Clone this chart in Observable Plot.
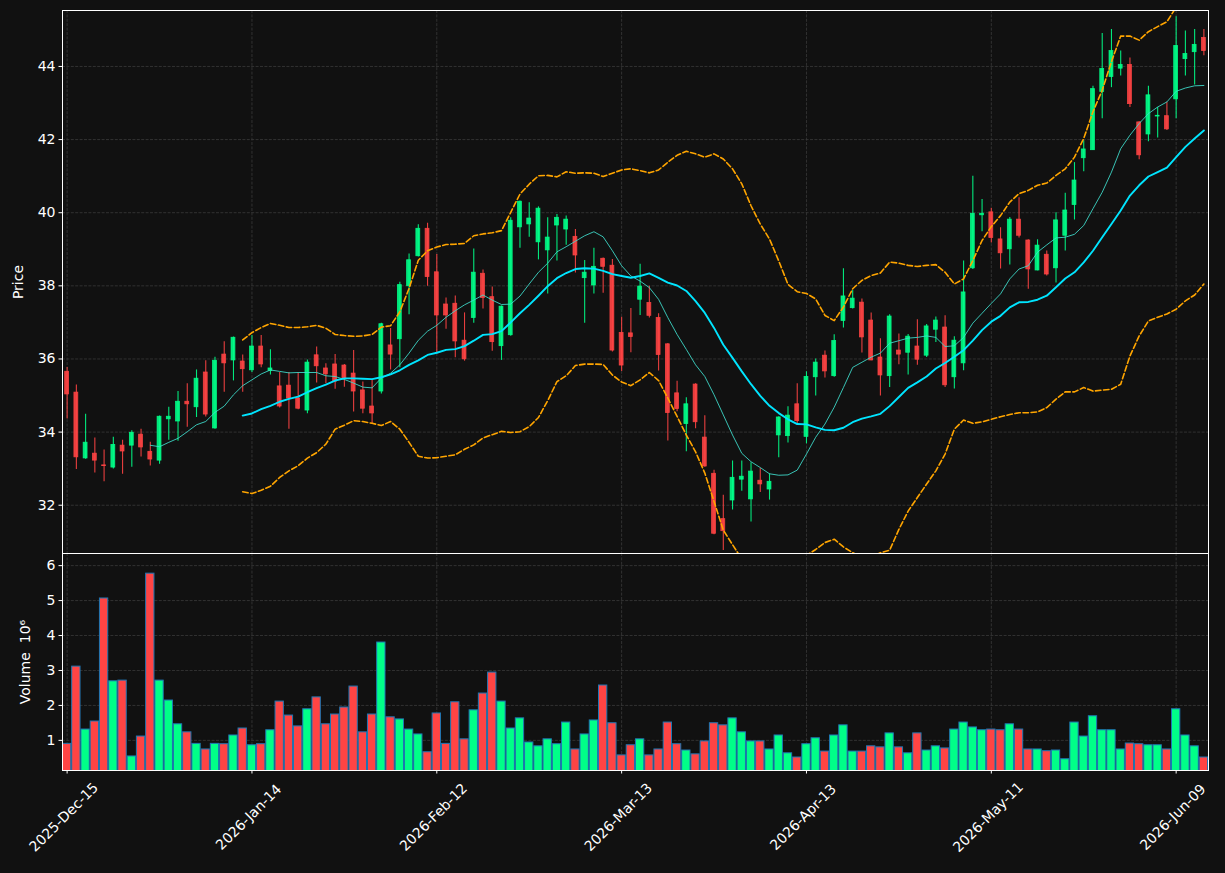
<!DOCTYPE html>
<html><head><meta charset="utf-8">
<script src="https://cdn.jsdelivr.net/npm/d3@7"></script>
<script src="https://cdn.jsdelivr.net/npm/@observablehq/plot@0.6"></script>
<style>
html,body{margin:0;padding:0;background:#111111;}
#chart{width:1225px;height:873px;overflow:hidden;background:#111111;}
#chart svg{display:block;}
</style></head><body><div id="chart"></div>
<script>
// ---- data (trading-day index 0..123) ----
const openP = [35.65,35.08,33.28,33.41,33.09,33.03,33.63,33.63,33.93,33.46,
33.22,34.35,34.29,34.83,34.68,35.63,34.10,36.12,35.96,35.93,
35.69,36.34,35.67,35.25,35.27,34.92,34.59,36.10,35.74,35.85,
35.82,35.60,35.14,34.70,35.11,36.37,36.54,37.99,38.81,39.56,
38.37,37.49,37.51,36.50,37.12,38.33,37.69,36.35,36.65,39.60,
39.68,39.19,38.97,39.65,39.54,39.34,38.21,38.01,38.74,38.55,
36.71,36.70,37.62,37.53,37.12,36.40,35.06,34.22,35.30,33.85,
32.86,31.62,32.13,32.70,32.16,32.67,32.43,33.91,33.89,34.76,
33.87,35.50,36.09,35.53,37.04,37.39,37.54,37.05,36.04,35.53,
36.23,36.17,36.34,36.09,36.80,36.86,35.50,35.88,38.48,39.93,
40.01,39.27,39.00,39.81,39.24,38.42,38.85,38.48,39.37,40.21,
41.49,41.71,43.30,43.71,43.94,44.04,42.47,42.14,42.63,42.64,
43.10,44.20,44.39,44.78];
const highP = [35.77,35.29,34.49,33.84,33.51,33.86,33.78,34.04,34.08,33.72,
34.44,34.68,35.11,35.32,35.70,35.95,36.05,36.47,36.60,36.11,
36.64,36.64,36.25,35.63,35.63,35.63,35.97,36.33,35.87,36.12,
35.85,36.23,35.37,35.41,36.98,36.83,38.10,38.87,39.67,39.71,
38.86,37.67,37.72,37.26,39.01,38.43,37.97,37.45,39.86,40.32,
40.27,40.16,39.86,39.95,39.91,39.54,38.69,39.03,38.76,38.72,
37.14,37.38,38.59,37.99,37.24,36.42,35.39,34.94,35.32,34.45,
32.96,32.27,33.21,33.21,33.16,33.01,32.86,34.42,34.69,35.32,
35.65,36.00,36.22,36.66,38.47,37.87,37.64,37.26,36.55,37.21,
36.68,36.67,37.07,36.94,37.15,37.18,36.61,38.68,41.00,40.36,
40.12,39.59,39.87,40.41,39.26,39.26,38.95,40.00,40.53,41.37,
41.97,43.46,44.90,45.01,44.42,44.23,42.49,43.46,42.88,43.02,
45.36,44.97,45.01,45.01];
const lowP = [34.36,32.98,33.26,32.88,32.64,32.99,32.85,33.04,33.32,33.07,
33.12,33.78,33.75,34.13,34.40,34.41,34.08,35.09,35.40,35.09,
35.63,35.76,35.56,34.66,34.08,34.61,34.50,35.34,35.32,35.17,
35.23,34.55,34.50,34.22,35.04,35.70,35.76,37.21,38.79,37.99,
36.18,36.81,36.03,35.94,36.98,37.37,36.21,35.96,36.62,39.03,
39.33,38.71,37.78,38.68,39.11,38.35,36.98,37.78,37.80,36.19,
35.66,36.17,37.19,37.12,35.67,33.76,34.56,33.46,34.09,33.04,
31.19,30.76,31.87,32.38,31.54,32.35,32.14,33.30,33.70,34.20,
33.68,34.99,35.48,35.50,36.85,37.37,36.16,35.95,34.99,35.22,
35.84,35.56,35.83,36.04,36.45,35.22,35.18,35.68,38.45,39.48,
39.17,38.46,38.57,39.31,37.91,38.41,38.27,38.08,38.95,39.80,
41.12,41.70,42.57,43.42,43.74,42.88,41.45,41.94,42.04,42.25,
42.57,43.74,43.49,44.29];
const closeP = [35.03,33.31,33.71,33.22,33.07,33.65,33.47,33.98,33.58,33.25,
34.42,34.42,34.83,34.76,35.46,34.48,35.95,35.88,36.58,35.72,
36.34,35.85,35.74,34.70,34.92,34.64,35.90,35.80,35.58,35.38,
35.45,35.11,34.64,34.51,36.95,36.12,38.02,38.70,39.56,38.24,
37.19,37.19,36.48,35.99,38.36,37.67,36.46,37.43,39.78,40.30,
39.84,40.11,39.32,39.86,39.81,38.83,38.36,38.52,38.52,36.23,
35.82,36.60,37.98,37.18,36.11,34.52,34.63,34.76,34.27,33.06,
31.22,31.29,32.75,32.78,32.92,32.57,32.64,34.40,34.45,34.30,
35.51,35.90,35.66,36.49,37.71,37.65,36.59,35.96,35.55,37.16,
36.12,36.61,35.98,36.89,37.05,35.28,36.50,37.82,39.97,39.97,
39.31,38.89,39.81,39.37,38.45,39.10,38.31,39.79,40.06,40.88,
41.73,43.38,43.93,44.42,44.04,42.97,41.57,43.21,42.65,42.28,
44.56,44.34,44.59,44.42];
// volume in millions
const volume = [0.90,3.11,1.31,1.54,5.06,2.69,2.71,0.54,1.11,5.77,
2.71,2.14,1.46,1.23,0.90,0.74,0.90,0.89,1.14,1.34,
0.86,0.89,1.29,2.11,1.71,1.40,1.89,2.23,1.46,1.74,
1.94,2.54,1.23,1.74,3.80,1.66,1.60,1.31,1.17,0.66,
1.77,0.90,2.09,1.03,1.86,2.34,2.94,2.11,1.34,1.63,
0.94,0.83,1.03,0.89,1.51,0.74,1.17,1.57,2.57,1.49,
0.57,0.86,1.03,0.57,0.74,1.51,0.89,0.71,0.60,0.97,
1.49,1.43,1.63,1.23,0.97,0.97,0.74,1.14,0.63,0.51,
0.89,1.06,0.68,1.14,1.43,0.68,0.68,0.83,0.80,1.20,
0.80,0.63,1.20,0.71,0.83,0.77,1.31,1.51,1.37,1.29,
1.31,1.29,1.46,1.31,0.74,0.74,0.69,0.71,0.46,1.51,
1.11,1.69,1.29,1.29,0.74,0.91,0.89,0.86,0.86,0.74,
1.89,1.14,0.83,0.51];
// 10-day moving average, starting at index 9
const ma10Start = 9;
const ma10 = [33.64,33.60,33.72,33.83,34.01,34.20,34.29,34.54,34.71,35.02,
35.27,35.43,35.59,35.70,35.66,35.62,35.63,35.63,35.63,35.54,
35.52,35.44,35.34,35.23,35.21,35.48,35.61,35.84,36.16,36.51,
36.76,36.92,37.14,37.32,37.48,37.61,37.75,37.61,37.49,37.50,
37.72,38.05,38.37,38.62,38.93,39.07,39.22,39.37,39.48,39.34,
38.96,38.55,38.27,38.13,37.95,37.63,37.13,36.67,36.26,35.84,
35.52,35.02,34.47,33.92,33.42,33.19,33.03,32.86,32.82,32.83,
32.96,33.40,33.86,34.22,34.68,35.22,35.77,35.91,36.05,36.16,
36.43,36.50,36.57,36.59,36.63,36.59,36.34,36.36,36.59,36.98,
37.25,37.52,37.78,38.19,38.46,38.55,38.92,39.12,39.31,39.33,
39.41,39.65,40.11,40.56,41.11,41.75,42.12,42.44,42.71,42.89,
43.03,43.32,43.41,43.47,43.48];
// 20-day moving average and Bollinger bands, starting at index 19
const ma20Start = 19;
const ma20 = [34.45,34.51,34.63,34.72,34.83,34.91,34.97,35.09,35.20,35.30,
35.41,35.47,35.47,35.46,35.45,35.50,35.58,35.69,35.84,35.96,
36.11,36.17,36.25,36.27,36.35,36.50,36.66,36.68,36.76,37.00,
37.25,37.48,37.73,37.99,38.21,38.35,38.46,38.48,38.47,38.41,
38.32,38.27,38.22,38.27,38.34,38.22,38.09,38.01,37.86,37.58,
37.26,36.85,36.39,36.03,35.66,35.31,34.99,34.72,34.52,34.35,
34.22,34.21,34.13,34.06,34.05,34.12,34.27,34.37,34.43,34.50,
34.71,34.96,35.21,35.36,35.52,35.74,35.89,36.06,36.24,36.50,
36.79,37.02,37.18,37.41,37.55,37.56,37.62,37.73,37.96,38.20,
38.37,38.64,38.96,39.33,39.69,40.06,40.47,40.75,40.99,41.11,
41.23,41.52,41.80,42.03,42.25];
const bbUpper = [36.52,36.72,36.86,36.97,36.92,36.86,36.86,36.88,36.92,36.84,
36.67,36.64,36.62,36.63,36.67,36.87,36.91,37.29,37.93,38.70,
38.96,39.06,39.13,39.14,39.16,39.37,39.42,39.45,39.51,40.01,
40.51,40.78,41.01,41.02,40.98,41.12,41.08,41.09,41.08,40.99,
41.08,41.17,41.20,41.15,41.09,41.17,41.38,41.57,41.68,41.61,
41.52,41.61,41.47,41.20,40.79,40.19,39.69,39.28,38.68,38.04,
37.84,37.79,37.64,37.19,37.05,37.42,37.92,38.15,38.28,38.35,
38.65,38.62,38.56,38.53,38.56,38.58,38.37,38.05,38.19,38.69,
39.24,39.62,39.92,40.29,40.52,40.61,40.75,40.81,41.02,41.20,
41.52,42.03,42.76,43.35,44.13,44.83,44.83,44.72,44.95,45.09,
45.22,45.62,46.00,46.30,46.45];
const bbLower = [32.37,32.32,32.41,32.52,32.76,32.94,33.08,33.29,33.44,33.67,
34.08,34.19,34.31,34.29,34.24,34.18,34.29,34.08,33.72,33.34,
33.29,33.30,33.34,33.38,33.53,33.65,33.84,33.93,34.02,33.99,
34.01,34.15,34.40,34.86,35.38,35.54,35.82,35.86,35.86,35.85,
35.56,35.37,35.27,35.43,35.63,35.41,34.93,34.43,33.92,33.46,
32.88,32.10,31.32,30.92,30.53,30.43,30.29,30.16,30.36,30.60,
30.60,30.63,30.79,30.98,31.07,30.86,30.70,30.59,30.58,30.70,
30.77,31.34,31.84,32.21,32.58,32.94,33.40,34.08,34.33,34.24,
34.28,34.35,34.42,34.48,34.53,34.53,34.55,34.67,34.90,35.10,
35.10,35.22,35.12,35.15,35.17,35.31,36.08,36.63,37.04,37.14,
37.23,37.36,37.59,37.75,38.05];
const tickIndex = [0, 20, 40, 60, 80, 100, 120];
const tickLabels = ["2025-Dec-15","2026-Jan-14","2026-Feb-12","2026-Mar-13","2026-Apr-13","2026-May-11","2026-Jun-09"];
const priceTicks = [32, 34, 36, 38, 40, 42, 44];
const volumeTicks = [1, 2, 3, 4, 5, 6];

// ---- styling ----
const UP = "#00ff88", DOWN = "#ff4444";
const BG = "#111111", GRID = "#3a3a3a";
const FONT = "DejaVu Sans";
const xDomain = [-0.5, 123.5];

const candles = openP.map((o, i) => ({
  i, open: o, high: highP[i], low: lowP[i], close: closeP[i], vol: volume[i],
  color: closeP[i] >= o ? UP : DOWN
}));
const series = (arr, start) => arr.map((v, k) => ({i: k + start, v}));
const ma10Rows = series(ma10, ma10Start);
const ma20Rows = series(ma20, ma20Start);
const upRows = series(bbUpper, ma20Start);
const loRows = series(bbLower, ma20Start);

const gridStyle = {stroke: GRID, strokeOpacity: 1, strokeWidth: 0.8, strokeDasharray: "3,1.4"};
const bandStyle = {stroke: "#ffa500", strokeWidth: 1.6, strokeDasharray: "5.5,2.6", clip: true};

const main = Plot.plot({
  width: 1225, height: 553,
  marginLeft: 62, marginRight: 17, marginTop: 10, marginBottom: 0,
  style: {background: BG, color: "#ffffff", fontFamily: FONT, fontSize: "14px", overflow: "visible"},
  x: {domain: xDomain, axis: null},
  y: {domain: [30.68, 45.53]},
  color: {type: "identity"},
  marks: [
    Plot.gridX(tickIndex, gridStyle),
    Plot.gridY(priceTicks, gridStyle),
    Plot.axisY({ticks: priceTicks, tickSize: 3.5, tickPadding: 3.5, fontSize: 14, tickFormat: d => String(d),
      label: "Price", labelAnchor: "center", labelOffset: 49, labelArrow: "none"}),
    Plot.ruleX(candles, {x: "i", y1: "low", y2: "high", stroke: "color", strokeOpacity: 0.9, strokeWidth: 1.1}),
    Plot.rect(candles, {x1: d => d.i - 0.21, x2: d => d.i + 0.21, y1: "open", y2: "close",
      fill: "color", fillOpacity: 0.9, stroke: "color", strokeOpacity: 0.9, strokeWidth: 0.8}),
    Plot.line(upRows, {x: "i", y: "v", ...bandStyle}),
    Plot.line(loRows, {x: "i", y: "v", ...bandStyle}),
    Plot.line(ma10Rows, {x: "i", y: "v", stroke: "#40e0d0", strokeWidth: 1, strokeOpacity: 0.85, clip: true}),
    Plot.line(ma20Rows, {x: "i", y: "v", stroke: "#00e5ff", strokeWidth: 1.9, clip: true}),
    Plot.frame({stroke: "#ffffff", strokeWidth: 1})
  ]
});

const vol = Plot.plot({
  width: 1225, height: 320,
  marginLeft: 62, marginRight: 17, marginTop: 0, marginBottom: 103,
  style: {background: BG, color: "#ffffff", fontFamily: FONT, fontSize: "14px", overflow: "visible"},
  x: {domain: xDomain},
  y: {domain: [0.138, 6.347]},
  color: {type: "identity"},
  marks: [
    Plot.gridX(tickIndex, gridStyle),
    Plot.gridY(volumeTicks, gridStyle),
    Plot.rect(candles, {x1: d => d.i - 0.45, x2: d => d.i + 0.45, y1: 0, y2: "vol",
      fill: "color", stroke: "#1f77b4", strokeWidth: 1, clip: true}),
    Plot.axisY({ticks: volumeTicks, tickSize: 3.5, tickPadding: 3.5, fontSize: 14, tickFormat: d => String(d),
      label: "Volume  10\u2076", labelAnchor: "center", labelOffset: 42, labelArrow: "none"}),
    Plot.axisX({ticks: tickIndex, tickSize: 3.5, tickFormat: () => "", label: null}),
    Plot.text(tickIndex, {x: d => d, text: (d, k) => tickLabels[k], frameAnchor: "bottom",
      dy: 50, rotate: -45, textAnchor: "middle", fill: "#ffffff", fontSize: 14}),
    Plot.frame({stroke: "#ffffff", strokeWidth: 1})
  ]
});

const root = document.getElementById("chart");
root.appendChild(main);
root.appendChild(vol);
</script>
</body></html>
